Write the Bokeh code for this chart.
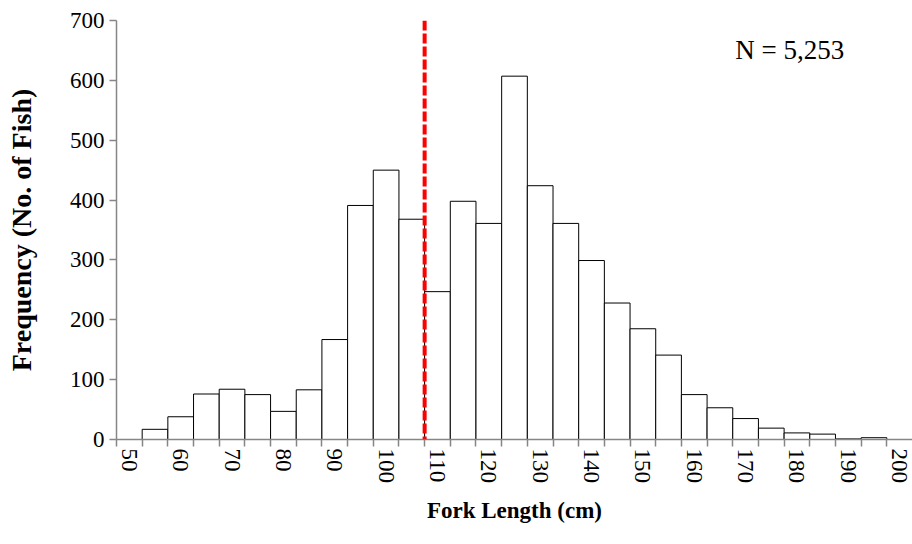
from bokeh.plotting import figure
from bokeh.models import FixedTicker, Span, Label, Range1d, ColumnDataSource
from bokeh.embed import file_html
from bokeh.resources import INLINE

# ---- data ----
bin_labels = [50, 55, 60, 65, 70, 75, 80, 85, 90, 95, 100, 105, 110, 115, 120,
              125, 130, 135, 140, 145, 150, 155, 160, 165, 170, 175, 180, 185,
              190, 195, 200]
frequency = [0, 17, 38, 76, 84, 75, 47, 83, 167, 391, 450, 368, 247, 398, 361,
             607, 424, 361, 299, 228, 185, 141, 75, 53, 35, 19, 11, 9, 1, 3, 0]
tick_labels = [50, 60, 70, 80, 90, 100, 110, 120, 130, 140, 150, 160, 170,
               180, 190, 200]
mean_fork_length = 107.5
n_total = 5253
bin_width = 5

FONT = "Liberation Serif"
AXIS_GRAY = "#868686"

# category positions (index based, Excel-like category axis)
def pos(v):
    return (v - bin_labels[0]) / bin_width + 0.5

xs = [pos(v) for v in bin_labels]
mask = [f > 0 for f in frequency]
src = ColumnDataSource(dict(
    x=[x for x, m in zip(xs, mask) if m],
    top=[f for f, m in zip(frequency, mask) if m],
))

p = figure(width=912, height=544, output_backend="svg", toolbar_location=None,
           x_range=Range1d(0, 31.0), y_range=Range1d(0, 700),
           min_border_left=116, min_border_right=0, min_border_top=20,
           min_border_bottom=105)
p.outline_line_color = None
p.xgrid.visible = False
p.ygrid.visible = False

p.vbar(x="x", top="top", width=1, bottom=0, source=src,
       fill_color="white", line_color="black", line_width=1)

# mean line
p.add_layout(Span(location=pos(mean_fork_length), dimension="height",
                  line_color="#FF0000", line_width=4, line_dash="10 3"))

# N label
p.add_layout(Label(x=24.1, y=650, text=f"N = {n_total:,}",
                   text_font=FONT, text_font_size="27px", text_color="black",
                   text_baseline="middle", text_align="left"))

# x axis
xa = p.xaxis[0]
major = [pos(v) for v in tick_labels]
xa.ticker = FixedTicker(ticks=major, minor_ticks=list(range(0, 31)))
xa.major_label_overrides = {m: str(v) for m, v in zip(major, tick_labels)}
xa.major_label_orientation = "vertical"
xa.major_tick_out = 0
xa.major_tick_in = 0
xa.minor_tick_out = 7
xa.minor_tick_in = 0
xa.minor_tick_line_color = AXIS_GRAY
xa.minor_tick_line_width = 1.5
xa.axis_line_color = AXIS_GRAY
xa.axis_line_width = 1.5
xa.major_label_text_font = FONT
xa.major_label_text_font_size = "23px"
xa.major_label_text_color = "black"
xa.major_label_standoff = 2
xa.axis_label = "Fork Length (cm)"
xa.axis_label_text_font = FONT
xa.axis_label_text_font_style = "bold"
xa.axis_label_text_font_size = "23px"
xa.axis_label_text_color = "black"
xa.axis_label_standoff = 12

# y axis
ya = p.yaxis[0]
ya.ticker = FixedTicker(ticks=list(range(0, 701, 100)))
ya.minor_tick_line_color = None
ya.major_tick_out = 7
ya.major_tick_in = 0
ya.major_tick_line_color = AXIS_GRAY
ya.major_tick_line_width = 1.5
ya.axis_line_color = AXIS_GRAY
ya.axis_line_width = 1.5
ya.major_label_text_font = FONT
ya.major_label_text_font_size = "23px"
ya.major_label_text_color = "black"
ya.major_label_standoff = 5
ya.axis_label = "Frequency (No. of Fish)"
ya.axis_label_text_font = FONT
ya.axis_label_text_font_style = "bold"
ya.axis_label_text_font_size = "28px"
ya.axis_label_text_color = "black"
ya.axis_label_standoff = 30

open("out.html", "w").write(file_html(p, INLINE))
